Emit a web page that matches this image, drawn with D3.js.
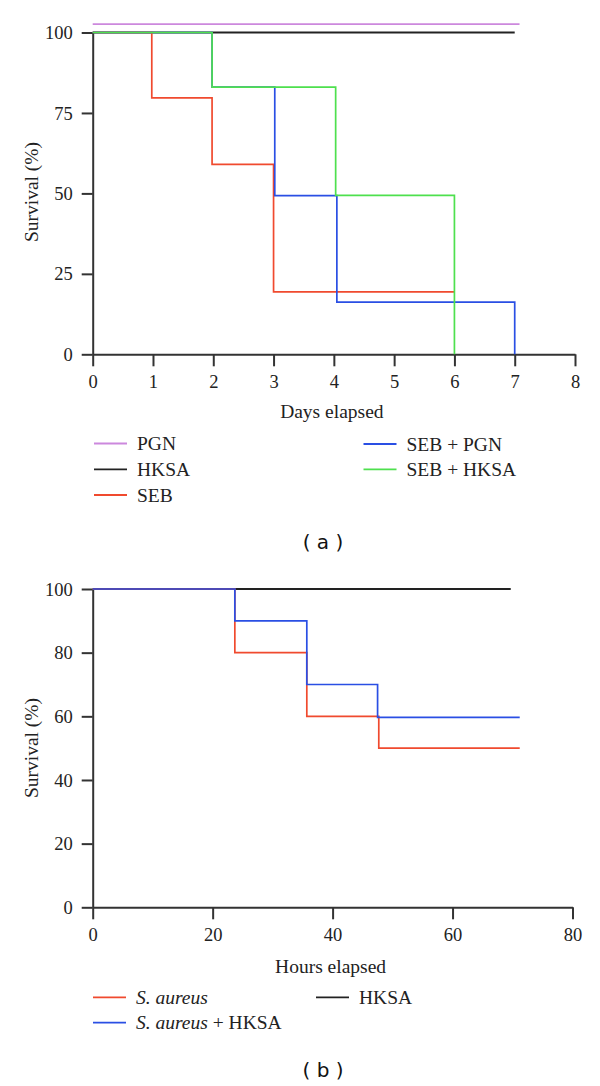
<!DOCTYPE html>
<html><head><meta charset="utf-8">
<script src="https://cdn.jsdelivr.net/npm/d3@7"></script>
<style>body{margin:0;background:#fff}svg{display:block}</style>
</head><body>
<script>
// ---------- Panel (a) data: days elapsed vs survival (%) ----------
const daysTicks = [0,1,2,3,4,5,6,7,8];
const survTicksA = [0,25,50,75,100];
const pgnTimes  = [0, 7.08];            const pgnValues  = [102.6, 102.6];
const hksaTimes = [0, 7.0];             const hksaValues = [100, 100];
const sebTimes  = [0, 0.98, 1.98, 3.0, 6.0];  const sebValues = [100, 79.7, 59, 19.4, 19.4];
const sebPgnTimes  = [0, 1.98, 3.02, 4.05, 7.0]; const sebPgnValues  = [100, 83, 49.3, 16.2, 0];
const sebHksaTimes = [0, 1.98, 4.03, 6.0];       const sebHksaValues = [100, 83, 49.4, 0];

// ---------- Panel (b) data: hours elapsed vs survival (%) ----------
const hoursTicks = [0,20,40,60,80];
const survTicksB = [0,20,40,60,80,100];
const saTimes  = [0, 23.7, 35.7, 47.7, 71.2]; const saValues  = [100, 80, 60, 50, 50];
const saHTimes = [0, 23.7, 35.7, 47.5, 71.2]; const saHValues = [100, 90, 70, 59.7, 59.7];
const hkTimes  = [0, 69.7];                   const hkValues  = [100, 100];

const C = {purple:"#cc88dd", black:"#222222", red:"#f04a2e", blue:"#2a4fe4", green:"#4ee04e", axis:"#333333"};
const SERIF = "'Liberation Serif','Times New Roman',serif";

const svg = d3.select("body").append("svg").attr("width",600).attr("height",1086);

function zip(t,v){ return t.map((x,i)=>[x,v[i]]); }

function panel(cfg){
  const g = svg.append("g");
  const x = d3.scaleLinear().domain(cfg.xDom).range(cfg.xRange);
  const y = d3.scaleLinear().domain([0,100]).range(cfg.yRange);

  // axes
  const xa = g.append("g").attr("transform",`translate(0,${cfg.yRange[0]})`)
    .call(d3.axisBottom(x).tickValues(cfg.xTicks).tickSizeInner(12).tickSizeOuter(0).tickFormat(d3.format("d")));
  const ya = g.append("g").attr("transform",`translate(${cfg.xRange[0]},0)`)
    .call(d3.axisLeft(y).tickValues(cfg.yTicks).tickSizeInner(11).tickSizeOuter(0).tickPadding(9).tickFormat(d3.format("d")));
  [xa,ya].forEach(a=>{
    a.attr("font-family",SERIF).attr("font-size",18.5);
    a.selectAll("path.domain").attr("stroke",C.axis).attr("stroke-width",2);
    a.selectAll(".tick line").attr("stroke",C.axis).attr("stroke-width",2);
    a.selectAll("text").attr("fill","#222").attr("font-family",SERIF).attr("font-size",18.5);
  });
  xa.selectAll("text").attr("dy",null).attr("y",34);
  ya.selectAll("text").attr("dy","0.33em");

  // axis titles
  g.append("text").attr("x",(cfg.xRange[0]+cfg.xRange[1])/2 - 2).attr("y",cfg.xTitleY)
    .attr("text-anchor","middle").attr("font-family",SERIF).attr("font-size",19.5).attr("fill","#222").text(cfg.xTitle);
  g.append("text").attr("transform",`translate(38,${cfg.yTitleC}) rotate(-90)`)
    .attr("text-anchor","middle").attr("font-family",SERIF).attr("font-size",19.5).attr("fill","#222").text("Survival (%)");

  // series
  const line = d3.line().x(d=>x(d[0])).y(d=>y(d[1])).curve(d3.curveStepAfter);
  cfg.series.forEach(s=>{
    g.append("path").datum(zip(s.t,s.v)).attr("d",line).attr("fill","none")
      .attr("stroke",s.color).attr("stroke-width",s.w||1.7);
  });

  // legend
  cfg.legend.forEach(l=>{
    g.append("line").attr("x1",l.x).attr("x2",l.x+33).attr("y1",l.y).attr("y2",l.y)
      .attr("stroke",l.color).attr("stroke-width",1.8);
    const t = g.append("text").attr("x",l.x+43).attr("y",l.y+6.5)
      .attr("font-family",SERIF).attr("font-size",19.5).attr("fill","#222");
    l.parts.forEach(p=>t.append("tspan").attr("font-style",p.i?"italic":"normal").text(p.s));
  });

  g.append("text").attr("x",323).attr("y",cfg.capY).attr("text-anchor","middle")
    .attr("font-family","'DejaVu Sans',Verdana,sans-serif").attr("font-size",20).attr("fill","#111")
    .text(cfg.cap);
}

panel({
  xDom:[0,8], xRange:[92.7,575], yRange:[354.3,32.5],
  xTicks:daysTicks, yTicks:survTicksA,
  xTitle:"Days elapsed", xTitleY:418.3, yTitleC:192,
  series:[
    {t:pgnTimes,v:pgnValues,color:C.purple,w:1.6},
    {t:hksaTimes,v:hksaValues,color:C.black,w:2},
    {t:sebTimes,v:sebValues,color:C.red},
    {t:sebPgnTimes,v:sebPgnValues,color:C.blue},
    {t:sebHksaTimes,v:sebHksaValues,color:C.green}
  ],
  legend:[
    {x:94,y:443.5,color:C.purple,parts:[{s:"PGN"}]},
    {x:94,y:469.3,color:C.black,parts:[{s:"HKSA"}]},
    {x:94,y:495,color:C.red,parts:[{s:"SEB"}]},
    {x:363.5,y:444,color:C.blue,parts:[{s:"SEB + PGN"}]},
    {x:363.5,y:469.3,color:C.green,parts:[{s:"SEB + HKSA"}]}
  ],
  cap:"( a )", capY:548.5
});

panel({
  xDom:[0,80], xRange:[92.7,572.5], yRange:[907.3,589],
  xTicks:hoursTicks, yTicks:survTicksB,
  xTitle:"Hours elapsed", xTitleY:973.3, yTitleC:748,
  series:[
    {t:hkTimes,v:hkValues,color:C.black,w:2},
    {t:saTimes,v:saValues,color:C.red},
    {t:saHTimes,v:saHValues,color:C.blue}
  ],
  legend:[
    {x:93,y:997.3,color:C.red,parts:[{s:"S. aureus",i:true}]},
    {x:93,y:1022.7,color:C.blue,parts:[{s:"S. aureus",i:true},{s:" + HKSA"}]},
    {x:316,y:997.3,color:C.black,parts:[{s:"HKSA"}]}
  ],
  cap:"( b )", capY:1076.5
});
</script>
</body></html>
